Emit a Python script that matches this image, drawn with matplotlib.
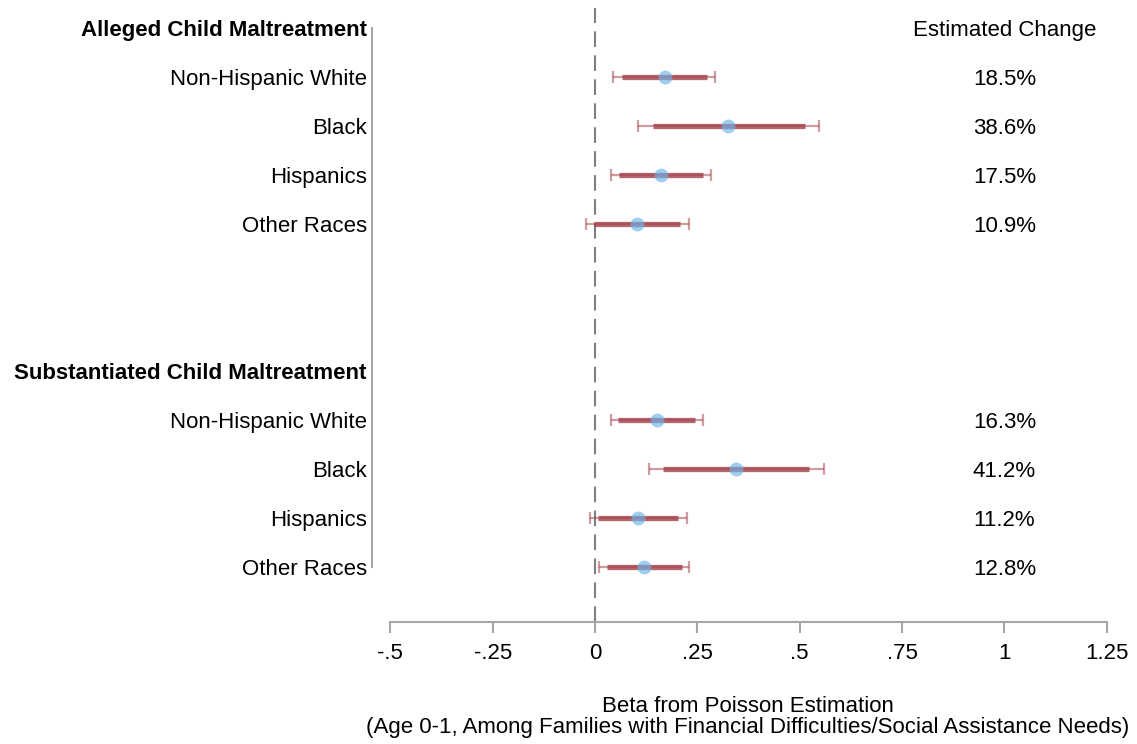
import matplotlib
matplotlib.use("Agg")
import matplotlib.pyplot as plt
import numpy as np

plt.rcParams['font.family'] = ['Liberation Sans', 'DejaVu Sans']

# ---- data ----
headers = ["Alleged Child Maltreatment", "Substantiated Child Maltreatment"]
categories = ["Non-Hispanic White", "Black", "Hispanics", "Other Races"]

alleged_beta = [0.170, 0.326, 0.161, 0.103]
alleged_lo95 = [0.045, 0.105, 0.038, -0.023]
alleged_hi95 = [0.294, 0.548, 0.284, 0.229]
alleged_lo90 = [0.065, 0.141, 0.059, -0.002]
alleged_hi90 = [0.273, 0.513, 0.265, 0.208]
alleged_change = ["18.5%", "38.6%", "17.5%", "10.9%"]

subst_beta = [0.151, 0.345, 0.106, 0.120]
subst_lo95 = [0.038, 0.132, -0.012, 0.010]
subst_hi95 = [0.264, 0.559, 0.224, 0.230]
subst_lo90 = [0.057, 0.167, 0.007, 0.029]
subst_hi90 = [0.245, 0.524, 0.204, 0.212]
subst_change = ["16.3%", "41.2%", "11.2%", "12.8%"]

xticks = [-0.5, -0.25, 0, 0.25, 0.5, 0.75, 1, 1.25]
xticklabels = ["-.5", "-.25", "0", ".25", ".5", ".75", "1", "1.25"]
change_header = "Estimated Change"
xlabel_lines = ["Beta from Poisson Estimation",
                "(Age 0-1, Among Families with Financial Difficulties/Social Assistance Needs)"]

# ---- layout ----
W, H = 1137, 744
fig = plt.figure(figsize=(W / 100, H / 100), dpi=100)
ax_l, ax_r, ax_t, ax_b = 390.3, 1106.7, 8, 622
ax = fig.add_axes([ax_l / W, 1 - ax_b / H, (ax_r - ax_l) / W, (ax_b - ax_t) / H])

# spines first (set_position resets ticks)
for s in ['top', 'right']:
    ax.spines[s].set_visible(False)
ax.spines['left'].set_position(('outward', 13))
ax.spines['left'].set_bounds(0, 11)
ax.spines['left'].set_color('#a6a6a6')
ax.spines['left'].set_linewidth(1.5)
ax.spines['bottom'].set_color('#a6a6a6')
ax.spines['bottom'].set_linewidth(1.5)

row0, step = 28, 49
ax.set_xlim(-0.5, 1.25)
ax.set_ylim((ax_b - row0) / step, (ax_t - row0) / step)

# positions
alleged_pos = np.arange(1, 5)
subst_pos = np.arange(8, 12)
header_pos = [0, 7]

thick_col = '#a03c45'
marker_col = '#6cb4ea'

ax.axvline(0, color='#7f7f7f', lw=1.5, dashes=(7.5, 4.0), zorder=1)

for pos, b, lo95, hi95, lo90, hi90 in [
        (alleged_pos, alleged_beta, alleged_lo95, alleged_hi95, alleged_lo90, alleged_hi90),
        (subst_pos, subst_beta, subst_lo95, subst_hi95, subst_lo90, subst_hi90)]:
    b = np.array(b)
    # thin 95% CI with caps
    ax.errorbar(b, pos, xerr=[b - np.array(lo95), np.array(hi95) - b], fmt='none',
                ecolor=thick_col, alpha=0.5, elinewidth=1.6, capsize=4, capthick=1.6, zorder=2)
    # thick 90% CI
    ax.hlines(pos, lo90, hi90, color=thick_col, alpha=0.78, lw=3.8, zorder=3)
    # point estimate
    ax.plot(b, pos, 'o', color=marker_col, alpha=0.65, ms=10, mec='none', zorder=4)

# estimated change column
ax.text(1.0, header_pos[0], change_header, ha='center', va='center_baseline', fontsize=16)
for pos, labels in [(alleged_pos, alleged_change), (subst_pos, subst_change)]:
    for p, t in zip(pos, labels):
        ax.text(1.0, p, t, ha='center', va='center_baseline', fontsize=16)

# y tick labels
ypos = [header_pos[0]] + list(alleged_pos) + [header_pos[1]] + list(subst_pos)
ylabels = [headers[0]] + categories + [headers[1]] + categories
ax.set_yticks(ypos)
ax.set_yticklabels(ylabels)
ax.tick_params(axis='y', length=0, pad=4, labelsize=16)

ax.set_xticks(xticks)
ax.set_xticklabels(xticklabels)
ax.tick_params(axis='x', length=8, width=1.5, color='#a6a6a6', pad=7, labelsize=16)

for lab in ax.get_yticklabels():
    if lab.get_text() in headers:
        lab.set_fontweight('bold')

# x label
fig.text(748 / W, 1 - 707 / H, xlabel_lines[0], ha='center', va='center', fontsize=16)
fig.text(748 / W, 1 - 728 / H, xlabel_lines[1], ha='center', va='center', fontsize=16)

fig.savefig("out.png", dpi=100)
